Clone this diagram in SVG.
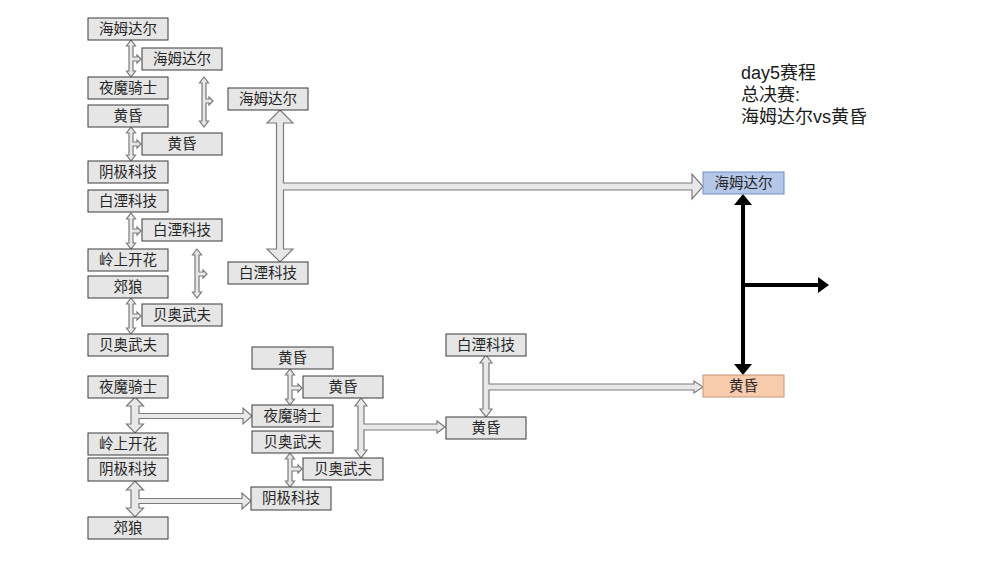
<svg xmlns="http://www.w3.org/2000/svg" width="999" height="562" viewBox="0 0 999 562">
<style>
.bg{fill:#ffffff}
.box{fill:#e6e6e6;stroke:#3a3a3a;stroke-width:1}
.blue{fill:#b4c7e7;stroke:#6f8fc7;stroke-width:1}
.orange{fill:#f8cbad;stroke:#c4967a;stroke-width:1}
.lbl{font-family:"Liberation Sans","Noto Sans CJK SC",sans-serif;font-size:14.5px;fill:#262626;text-anchor:middle}
.title{font-family:"Liberation Sans","Noto Sans CJK SC",sans-serif;font-size:18px;fill:#1a1a1a}
.harr{fill:#e8e8e8;stroke:#7a7a7a;stroke-width:1.2;stroke-linejoin:miter}
.bline{fill:none;stroke:#000;stroke-width:4}
.bhead{fill:#000}
</style>
<rect class="bg" x="0" y="0" width="999" height="562"/>

<g id="connectors">
<polygon class="harr" points="131,40 135.5,46 133,46 133,57 137,57 137,55 141,59 137,63 137,61 133,61 133,71 135.5,71 131,77 126.5,71 129,71 129,46 126.5,46"/>
<polygon class="harr" points="204,77 208.5,83 206,83 206,99 209,99 209,97 213,101 209,105 209,103 206,103 206,121 208.5,121 204,127 199.5,121 202,121 202,83 199.5,83"/>
<polygon class="harr" points="131,127 135.5,133 133,133 133,142 137,142 137,140 141,144 137,148 137,146 133,146 133,155 135.5,155 131,161 126.5,155 129,155 129,133 126.5,133"/>
<polygon class="harr" points="131,213 135.5,219 133,219 133,229 137,229 137,227 141,231 137,235 137,233 133,233 133,243 135.5,243 131,249 126.5,243 129,243 129,219 126.5,219"/>
<polygon class="harr" points="197,249 201.5,255 199,255 199,272 203,272 203,270 207,274 203,278 203,276 199,276 199,292 201.5,292 197,298 192.5,292 195,292 195,255 192.5,255"/>
<polygon class="harr" points="131,298 135.5,304 133,304 133,314 137,314 137,312 141,316 137,320 137,318 133,318 133,328 135.5,328 131,334 126.5,328 129,328 129,304 126.5,304"/>
<polygon class="harr" points="290,369 294.5,375 292,375 292,386 298,386 298,384 302,388 298,392 298,390 292,390 292,399 294.5,399 290,405 285.5,399 288,399 288,375 285.5,375"/>
<polygon class="harr" points="290,453 294.5,459 292,459 292,467 298,467 298,465 302,469 298,473 298,471 292,471 292,481 294.5,481 290,487 285.5,481 288,481 288,459 285.5,459"/>
<polygon class="harr" points="361,398 367,406 364,406 364,424 437,424 437,421 445,427 437,433 437,430 364,430 364,450 367,450 361,458 355,450 358,450 358,406 355,406"/>
<polygon class="harr" points="486,355 492,363 489,363 489,384 694,384 694,381 703,387 694,393 694,390 489,390 489,409 492,409 486,417 480,409 483,409 483,363 480,363"/>
<polygon class="harr" points="135,397 143.5,406 139,406 139,413.5 243,413.5 243,408 252,416 243,424 243,418.5 139,418.5 139,424 143.5,424 135,433 126.5,424 131,424 131,406 126.5,406"/>
<polygon class="harr" points="135,481 143.5,490 139,490 139,498.5 242,498.5 242,493 251,501 242,509 242,503.5 139,503.5 139,508 143.5,508 135,517 126.5,508 131,508 131,490 126.5,490"/>
<polygon class="harr" points="280,110 293,123 283.5,123 283.5,183 692,183 692,174 703,186.5 692,199 692,190 283.5,190 283.5,249 293,249 280,262 267,249 276.5,249 276.5,123 267,123"/>
<path class="bline" d="M743,202 V367 M743,285 H820"/>
<polygon class="bhead" points="743,194 734,205 752,205"/>
<polygon class="bhead" points="743,375 734,364 752,364"/>
<polygon class="bhead" points="829,285 818,277 818,293"/>
</g>

<g id="n1"><rect class="box" x="88" y="18" width="80" height="22"/><text class="lbl" x="128" y="34">海姆达尔</text></g>
<g id="n2"><rect class="box" x="142" y="48" width="80" height="22"/><text class="lbl" x="182" y="64">海姆达尔</text></g>
<g id="n3"><rect class="box" x="88" y="77" width="80" height="22"/><text class="lbl" x="128" y="93">夜魔骑士</text></g>
<g id="n4"><rect class="box" x="88" y="105" width="80" height="22"/><text class="lbl" x="128" y="121">黄昏</text></g>
<g id="n5"><rect class="box" x="142" y="133" width="80" height="22"/><text class="lbl" x="182" y="149">黄昏</text></g>
<g id="n6"><rect class="box" x="88" y="161" width="80" height="22"/><text class="lbl" x="128" y="177">阴极科技</text></g>
<g id="n7"><rect class="box" x="228" y="88" width="80" height="22"/><text class="lbl" x="268" y="104">海姆达尔</text></g>
<g id="n8"><rect class="box" x="88" y="190" width="80" height="22"/><text class="lbl" x="128" y="206">白湮科技</text></g>
<g id="n9"><rect class="box" x="142" y="219" width="80" height="22"/><text class="lbl" x="182" y="235">白湮科技</text></g>
<g id="n10"><rect class="box" x="88" y="249" width="80" height="22"/><text class="lbl" x="128" y="265">岭上开花</text></g>
<g id="n11"><rect class="box" x="88" y="276" width="80" height="22"/><text class="lbl" x="128" y="292">郊狼</text></g>
<g id="n12"><rect class="box" x="142" y="304" width="80" height="22"/><text class="lbl" x="182" y="320">贝奥武夫</text></g>
<g id="n13"><rect class="box" x="88" y="334" width="80" height="22"/><text class="lbl" x="128" y="350">贝奥武夫</text></g>
<g id="n14"><rect class="box" x="228" y="262" width="80" height="22"/><text class="lbl" x="268" y="278">白湮科技</text></g>

<g id="m1"><rect class="box" x="88" y="376" width="80" height="22"/><text class="lbl" x="128" y="392">夜魔骑士</text></g>
<g id="m2"><rect class="box" x="88" y="433" width="80" height="22"/><text class="lbl" x="128" y="449">岭上开花</text></g>
<g id="m3"><rect class="box" x="88" y="458" width="80" height="23"/><text class="lbl" x="128" y="474">阴极科技</text></g>
<g id="m4"><rect class="box" x="88" y="517" width="80" height="22"/><text class="lbl" x="128" y="533">郊狼</text></g>
<g id="m5"><rect class="box" x="252" y="347" width="81" height="22"/><text class="lbl" x="292.5" y="363">黄昏</text></g>
<g id="m6"><rect class="box" x="303" y="376" width="80" height="22"/><text class="lbl" x="343" y="392">黄昏</text></g>
<g id="m7"><rect class="box" x="252" y="405" width="81" height="22"/><text class="lbl" x="292.5" y="421">夜魔骑士</text></g>
<g id="m8"><rect class="box" x="252" y="431" width="81" height="22"/><text class="lbl" x="292.5" y="447">贝奥武夫</text></g>
<g id="m9"><rect class="box" x="303" y="458" width="80" height="22"/><text class="lbl" x="343" y="474">贝奥武夫</text></g>
<g id="m10"><rect class="box" x="251" y="487" width="80" height="23"/><text class="lbl" x="291" y="503">阴极科技</text></g>
<g id="m11"><rect class="box" x="446" y="334" width="80" height="22"/><text class="lbl" x="486" y="350">白湮科技</text></g>
<g id="m12"><rect class="box" x="446" y="417" width="80" height="22"/><text class="lbl" x="486" y="433">黄昏</text></g>

<g id="f1"><rect class="blue" x="703" y="172" width="81" height="22"/><text class="lbl" x="743.5" y="188">海姆达尔</text></g>
<g id="f2"><rect class="orange" x="703" y="375" width="81" height="22"/><text class="lbl" x="743.5" y="391">黄昏</text></g>

<g id="title">
<text class="title" x="741" y="79">day5赛程</text>
<text class="title" x="741" y="101">总决赛:</text>
<text class="title" x="741" y="123">海姆达尔vs黄昏</text>
</g>
</svg>
